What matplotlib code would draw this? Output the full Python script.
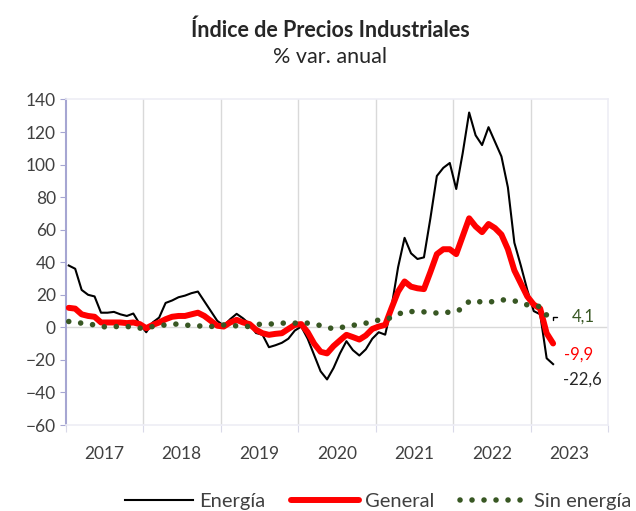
import matplotlib
matplotlib.use("Agg")
import matplotlib.pyplot as plt
import numpy as np

plt.rcParams['font.family'] = ['Lato', 'DejaVu Sans']

years = ['2017', '2018', '2019', '2020', '2021', '2022', '2023']

# Monthly % yoy, Jan 2017 .. Apr 2023
energia = [38, 36, 23, 20, 19, 9, 9, 9.5, 8, 7, 8.5, 2,
           -3, 3, 6, 15, 16.5, 18.5, 19.5, 21, 22, 16, 10, 4,
           1, 5, 8.3, 5.5, 2, -3.5, -4.5, -12.2, -11, -9.5, -7, -2,
           0.5, -7, -17, -27, -32, -25, -16, -8.5, -14, -17.3, -13.5, -7,
           -3, -4.5, 13, 37, 55, 45.5, 42, 43, 67, 93, 98, 101,
           85, 107, 132, 118, 112, 123, 114, 105, 86, 52, 38, 23,
           10, 8, -19, -22.6]
general = [12, 11.5, 8, 7, 6.5, 3, 3, 3, 3, 2.6, 3, 2,
           -0.5, 1.5, 3, 5, 6.5, 7, 7, 8, 9, 7, 4, 1,
           0.5, 3, 4.6, 3, 2, -1.5, -3.6, -4.6, -4, -3.6, -1, 1.5,
           2, -3, -10, -15, -16, -11.5, -8, -4.6, -6, -7.5, -5, -1,
           0.5, 1.5, 12, 22, 28.2, 25, 24, 23.5, 34, 45, 48, 48,
           45, 56, 67, 62, 58.5, 63.5, 61, 57, 48, 35, 27, 19,
           14, 11.5, -3.6, -9.9]
sin_energia = [3.6, 3, 2.6, 2, 1.5, 0.5, 0.2, 0.5, 0.5, 0.5, 0.2, -0.5,
               -0.3, 0.5, 1, 1.5, 2, 2, 1.5, 1, 0.9, 0.7, 0.5, 1,
               1.5, 1.2, 0.9, 0.6, 0.5, 1.5, 2.2, 2, 2.2, 2.6, 2.6, 2.6,
               2.6, 2.6, 2, 1.1, 0, -0.9, -0.2, 0.5, 1.2, 2, 2.6, 3,
               4.6, 5, 6, 8, 9.7, 9.7, 9.7, 9.5, 9.1, 8.8, 8.7, 9.5,
               9.7, 11.8, 16, 16.5, 15.3, 15.5, 16, 17, 16.5, 16.3, 15, 13.8,
               13.2, 12.8, 7.5, 4.1]

x = np.arange(len(general)) + 0.5

fig = plt.figure(figsize=(6.36, 5.11), dpi=100)
ax = fig.add_axes([65.5/636, (511-425)/511, (608-65.5)/636, (425-99.5)/511])

green = '#385723'
ax.plot(x, energia, color='black', lw=1.5, label='Energía', zorder=3, solid_joinstyle='round')
ax.plot(x, general, color='#FF0000', lw=4.3, label='General', zorder=4, solid_joinstyle='round', solid_capstyle='round')
ax.plot(x, sin_energia, color=green, lw=4, linestyle=(0, (0.01, 2.15)),
        dash_capstyle='round', label='Sin energía', zorder=5)

nyears = len(years)
ax.set_xlim(0, 12 * nyears)
ax.set_ylim(-60, 140)
ax.set_yticks(np.arange(-60, 141, 20))
ax.set_xticks(np.arange(0, 12 * nyears + 1, 12))
ax.set_xticklabels([])
ax.set_xticks(np.arange(6, 12 * nyears, 12), minor=True)
ax.set_xticklabels(years, minor=True)
ax.tick_params(axis='x', which='minor', length=0, pad=15, labelsize=12.5, labelcolor='#404040')
ax.tick_params(axis='x', which='major', length=5, color='#D9D9E8', direction='out')
ax.tick_params(axis='y', length=4, color='#A6A6D2', labelsize=12.5, labelcolor='#404040', pad=3)

for xv in np.arange(12, 12 * nyears, 12):
    ax.axvline(xv, color='#D9D9D9', lw=1, zorder=1)
ax.axhline(0, color='#D9D9D9', lw=1, zorder=1)

ax.spines['left'].set_color('#A6A6D2')
ax.spines['left'].set_linewidth(1.5)
for s in ['top', 'right', 'bottom']:
    ax.spines[s].set_color('#EDEDF5')
    ax.spines[s].set_linewidth(1.2)

last = len(general) - 0.5
ax.annotate('4,1', xy=(last, sin_energia[-1]), xytext=(22, 3), textcoords='offset points',
            color=green, fontsize=12, ha='center', va='center',
            arrowprops=dict(arrowstyle='-', color='black', lw=1,
                            shrinkA=9, shrinkB=0.5,
                            connectionstyle='angle,angleA=0,angleB=90,rad=0'))
ax.annotate('-9,9', xy=(last, general[-1]), xytext=(18, -8), textcoords='offset points',
            color='#FF0000', fontsize=12, ha='center', va='center')
ax.annotate('-22,6', xy=(last, energia[-1]), xytext=(21, -11.5), textcoords='offset points',
            color='#262626', fontsize=12, ha='center', va='center', annotation_clip=False)

fig.text(0.519, 1 - 30/511, 'Índice de Precios Industriales', ha='center', va='center',
         fontsize=15.5, fontweight='bold', color='#262626')
fig.text(0.519, 1 - 57/511, '% var. anual', ha='center', va='center',
         fontsize=15.5, color='#262626')

leg = fig.legend(loc='center left', bbox_to_anchor=(125/636, 10/511), ncol=3, frameon=False,
                 fontsize=14.5, handlelength=3.4, handletextpad=0.3, columnspacing=1.25,
                 labelcolor='#404040', borderaxespad=0, borderpad=0)

fig.savefig('out.png', dpi=100)
